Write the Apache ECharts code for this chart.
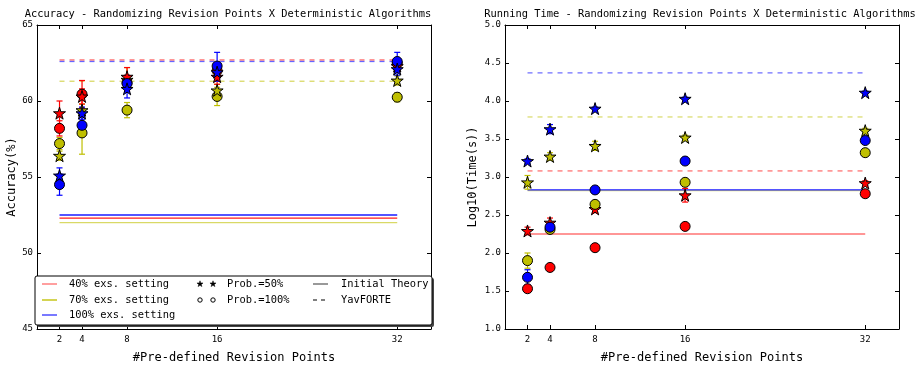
<!DOCTYPE html>
<html>
<head>
<meta charset="utf-8">
<script src="https://cdn.jsdelivr.net/npm/echarts@6/dist/echarts.min.js"></script>
<style>html,body{margin:0;padding:0;background:#fff;}#c{width:921px;height:369px;}</style>
</head>
<body>
<div id="c"></div>
<script>
// ---------- data ----------
var revisionPoints = [2, 4, 8, 16, 32];
var accYTicks = [45, 50, 55, 60, 65];
var timeYTicks = [1.0, 1.5, 2.0, 2.5, 3.0, 3.5, 4.0, 4.5, 5.0];

// Accuracy (%) – Prob.=100% (circles) and Prob.=50% (stars)
var accRed100 = [58.2, 60.45, 61.2, 62.0, 62.5];
var accRed100Err = [0.5, 0.9, 0.5, 0.4, 0.3];
var accRed50 = [59.2, 60.3, 61.6, 61.6, 62.3];
var accRed50Err = [0.8, 0.5, 0.6, 0.5, 0.3];
var accYel100 = [57.2, 57.9, 59.4, 60.3, 60.25];
var accYel100Err = [0.4, 1.4, 0.5, 0.6, 0.3];
var accYel50 = [56.4, 59.4, 61.4, 60.7, 61.35];
var accYel50Err = [0.3, 0.4, 0.8, 0.4, 0.3];
var accBlu100 = [54.5, 58.4, 61.15, 62.3, 62.6];
var accBlu100Err = [0.7, 0.6, 0.5, 0.9, 0.6];
var accBlu50 = [55.1, 59.2, 60.8, 61.9, 62.1];
var accBlu50Err = [0.5, 0.4, 0.6, 0.6, 0.4];
// reference lines (accuracy)
var accTheory = {red: 52.3, yel: 52.0, blu: 52.5};
var accYav = {red: 62.7, yel: 61.3, blu: 62.6};

// Running time log10(s)
var tRed100 = [1.53, 1.81, 2.07, 2.35, 2.78];
var tRed100Err = [0.04, 0.05, 0.02, 0.02, 0.02];
var tRed50 = [2.29, 2.40, 2.58, 2.76, 2.92];
var tRed50Err = [0.05, 0.06, 0.05, 0.09, 0.03];
var tYel100 = [1.90, 2.31, 2.64, 2.93, 3.32];
var tYel100Err = [0.10, 0.04, 0.03, 0.03, 0.03];
var tYel50 = [2.93, 3.27, 3.41, 3.52, 3.61];
var tYel50Err = [0.09, 0.05, 0.06, 0.03, 0.03];
var tBlu100 = [1.68, 2.34, 2.83, 3.21, 3.48];
var tBlu100Err = [0.10, 0.05, 0.02, 0.02, 0.02];
var tBlu50 = [3.21, 3.63, 3.90, 4.03, 4.11];
var tBlu50Err = [0.03, 0.06, 0.02, 0.02, 0.02];
var tTheory = {red: 2.25, yel: 2.82, blu: 2.83};
var tYav = {red: 3.08, yel: 3.79, blu: 4.37};

// ---------- styling ----------
var RED = '#ff0000', YEL = '#bfbf00', BLU = '#0000ff';
var FONT = '"DejaVu Sans Mono", monospace';
var STAR = 'path://M50,0 L61,35 L98,35 L68,57 L79,91 L50,70 L21,91 L32,57 L2,35 L39,35 Z';

function pairs(ys) { return revisionPoints.map(function (x, i) { return [x, ys[i]]; }); }
function triples(ys, es) { return revisionPoints.map(function (x, i) { return [x, ys[i], es[i]]; }); }

function errSeries(ys, es, color, axisIdx) {
  return {
    type: 'custom', xAxisIndex: axisIdx, yAxisIndex: axisIdx, z: 3,
    data: triples(ys, es),
    renderItem: function (params, api) {
      var x = api.value(0), y = api.value(1), e = api.value(2);
      var t = api.coord([x, y + e]), b = api.coord([x, y - e]);
      var hw = 3;
      var st = {stroke: color, lineWidth: 1.2};
      return {type: 'group', children: [
        {type: 'line', shape: {x1: t[0], y1: t[1], x2: b[0], y2: b[1]}, style: st},
        {type: 'line', shape: {x1: t[0] - hw, y1: t[1], x2: t[0] + hw, y2: t[1]}, style: st},
        {type: 'line', shape: {x1: b[0] - hw, y1: b[1], x2: b[0] + hw, y2: b[1]}, style: st}
      ]};
    }
  };
}
function ptSeries(ys, color, star, axisIdx) {
  return {
    type: 'scatter', xAxisIndex: axisIdx, yAxisIndex: axisIdx, z: 5,
    symbol: star ? STAR : 'circle', symbolSize: star ? 12 : 10,
    itemStyle: {color: color, borderColor: '#000', borderWidth: 1, opacity: 1},
    data: pairs(ys)
  };
}
function hLine(v, color, dashed, axisIdx, opacity) {
  return {
    type: 'line', xAxisIndex: axisIdx, yAxisIndex: axisIdx, z: 2,
    symbol: 'none', silent: true,
    lineStyle: {color: color, width: 1.3, type: dashed ? [5, 5] : 'solid', opacity: opacity},
    data: [[revisionPoints[0], v], [revisionPoints[revisionPoints.length - 1], v]]
  };
}

function xAx(gi, pos, show) {
  return {
    type: 'value', gridIndex: gi, position: pos, min: 0, max: 35,
    name: show ? '#Pre-defined Revision Points' : '', nameLocation: 'middle', nameGap: 23,
    nameTextStyle: {fontFamily: FONT, fontSize: 12, color: '#000'},
    axisLine: {show: true, onZero: false, lineStyle: {color: '#000', width: 1}},
    axisTick: {show: true, inside: true, length: 4, customValues: revisionPoints, lineStyle: {color: '#000'}},
    axisLabel: {show: show, customValues: revisionPoints, fontFamily: FONT, fontSize: 9, color: '#000', margin: 6},
    splitLine: {show: false}
  };
}
function yAx(gi, pos, show, min, max, interval, name, dec) {
  return {
    type: 'value', gridIndex: gi, position: pos, min: min, max: max, interval: interval,
    name: show ? name : '', nameLocation: 'middle', nameGap: dec ? 26 : 17,
    nameTextStyle: {fontFamily: FONT, fontSize: 12, color: '#000'},
    axisLine: {show: true, onZero: false, lineStyle: {color: '#000', width: 1}},
    axisTick: {show: true, inside: true, length: 4, lineStyle: {color: '#000'}},
    axisLabel: {show: show, fontFamily: FONT, fontSize: 9, color: '#000', margin: 4,
      formatter: function (v) { return dec ? v.toFixed(1) : String(v); }},
    splitLine: {show: false}
  };
}

var series = [];
// left chart (axis index 0)
[[accTheory.red, RED], [accTheory.yel, YEL], [accTheory.blu, BLU]].forEach(function (a) { series.push(hLine(a[0], a[1], false, 0, a[1] === YEL ? 0.6 : 0.9)); });
[[accYav.yel, YEL], [accYav.red, RED], [accYav.blu, BLU]].forEach(function (a) { series.push(hLine(a[0], a[1], true, 0, 0.6)); });
var accSets = [
  [accYel100, accYel100Err, YEL, false], [accYel50, accYel50Err, YEL, true],
  [accRed100, accRed100Err, RED, false], [accRed50, accRed50Err, RED, true],
  [accBlu100, accBlu100Err, BLU, false], [accBlu50, accBlu50Err, BLU, true]
];
accSets.forEach(function (s) { series.push(errSeries(s[0], s[1], s[2], 0)); });
accSets.forEach(function (s) { series.push(ptSeries(s[0], s[2], s[3], 0)); });

// right chart (axis index 2)
series.push(hLine(tTheory.red, RED, false, 2, 0.55));
series.push(hLine(tTheory.yel, YEL, false, 2, 0.5));
series.push(hLine(tTheory.blu, BLU, false, 2, 0.9));
[[tYav.red, RED], [tYav.yel, YEL], [tYav.blu, BLU]].forEach(function (a) { series.push(hLine(a[0], a[1], true, 2, 0.55)); });
var tSets = [
  [tRed50, tRed50Err, RED, true], [tYel50, tYel50Err, YEL, true], [tBlu50, tBlu50Err, BLU, true],
  [tYel100, tYel100Err, YEL, false], [tBlu100, tBlu100Err, BLU, false], [tRed100, tRed100Err, RED, false]
];
tSets.forEach(function (s) { series.push(errSeries(s[0], s[1], s[2], 2)); });
tSets.forEach(function (s) { series.push(ptSeries(s[0], s[2], s[3], 2)); });

// ---------- custom legend (graphic) ----------
function starPts(cx, cy, R, r) {
  var p = [];
  for (var i = 0; i < 10; i++) {
    var ang = -Math.PI / 2 + i * Math.PI / 5;
    var rad = i % 2 === 0 ? R : r;
    p.push([cx + rad * Math.cos(ang), cy + rad * Math.sin(ang)]);
  }
  return p;
}
var LX = 35, LY = 276, LW = 397, LH = 49;
var rows = [284, 300, 315];
var legendTextStyle = {fontFamily: FONT, fontSize: 10.4, fill: '#000', verticalAlign: 'middle'};
var legendLabels = ['40% exs. setting', '70% exs. setting', '100% exs. setting'];
var legendColors = ['rgba(255,0,0,0.5)', 'rgba(191,191,0,0.9)', 'rgba(0,0,255,0.7)'];
var graphics = [
  {type: 'rect', shape: {x: LX + 2, y: LY + 2, width: LW, height: LH, r: 2}, style: {fill: '#444'}, z: 100},
  {type: 'rect', shape: {x: LX, y: LY, width: LW, height: LH, r: 2}, style: {fill: '#fff', stroke: '#000', lineWidth: 1}, z: 101}
];
legendLabels.forEach(function (t, i) {
  graphics.push({type: 'line', shape: {x1: 42, y1: rows[i], x2: 57, y2: rows[i]}, style: {stroke: legendColors[i], lineWidth: 1.5}, z: 102});
  graphics.push({type: 'text', x: 69, y: rows[i], style: Object.assign({text: t}, legendTextStyle), z: 102});
});
[200, 213].forEach(function (cx) {
  graphics.push({type: 'polygon', shape: {points: starPts(cx, rows[0], 3.2, 1.3)}, style: {fill: '#000', stroke: '#000', lineWidth: 0.5}, z: 102});
  graphics.push({type: 'circle', shape: {cx: cx, cy: rows[1], r: 2.2}, style: {fill: '#fff', stroke: '#000', lineWidth: 1}, z: 102});
});
graphics.push({type: 'text', x: 227, y: rows[0], style: Object.assign({text: 'Prob.=50%'}, legendTextStyle), z: 102});
graphics.push({type: 'text', x: 227, y: rows[1], style: Object.assign({text: 'Prob.=100%'}, legendTextStyle), z: 102});
graphics.push({type: 'line', shape: {x1: 313, y1: rows[0], x2: 328, y2: rows[0]}, style: {stroke: '#777', lineWidth: 1.5}, z: 102});
graphics.push({type: 'line', shape: {x1: 313, y1: rows[1], x2: 328, y2: rows[1]}, style: {stroke: '#000', lineWidth: 1.2, lineDash: [4, 4]}, z: 102});
graphics.push({type: 'text', x: 341, y: rows[0], style: Object.assign({text: 'Initial Theory'}, legendTextStyle), z: 102});
graphics.push({type: 'text', x: 341, y: rows[1], style: Object.assign({text: 'YavFORTE'}, legendTextStyle), z: 102});

var chart = echarts.init(document.getElementById('c'), null, {renderer: 'canvas'});
chart.setOption({
  animation: false,
  backgroundColor: '#fff',
  title: [
    {text: 'Accuracy - Randomizing Revision Points X Deterministic Algorithms', left: 223, top: 4, textAlign: 'center',
      textStyle: {fontFamily: FONT, fontSize: 10.4, fontWeight: 'normal', color: '#000'}},
    {text: 'Running Time - Randomizing Revision Points X Deterministic Algorithms', left: 695, top: 4, textAlign: 'center',
      textStyle: {fontFamily: FONT, fontSize: 10.4, fontWeight: 'normal', color: '#000'}}
  ],
  grid: [
    {left: 37, top: 25, width: 394, height: 305, show: false},
    {left: 505, top: 25, width: 394, height: 305, show: false}
  ],
  xAxis: [xAx(0, 'bottom', true), xAx(0, 'top', false), xAx(1, 'bottom', true), xAx(1, 'top', false)],
  yAxis: [
    yAx(0, 'left', true, 45, 65, 5, 'Accuracy(%)', false),
    yAx(0, 'right', false, 45, 65, 5, '', false),
    yAx(1, 'left', true, 1, 5, 0.5, 'Log10(Time(s))', true),
    yAx(1, 'right', false, 1, 5, 0.5, '', true)
  ],
  series: series,
  graphic: graphics
});
</script>
</body>
</html>
